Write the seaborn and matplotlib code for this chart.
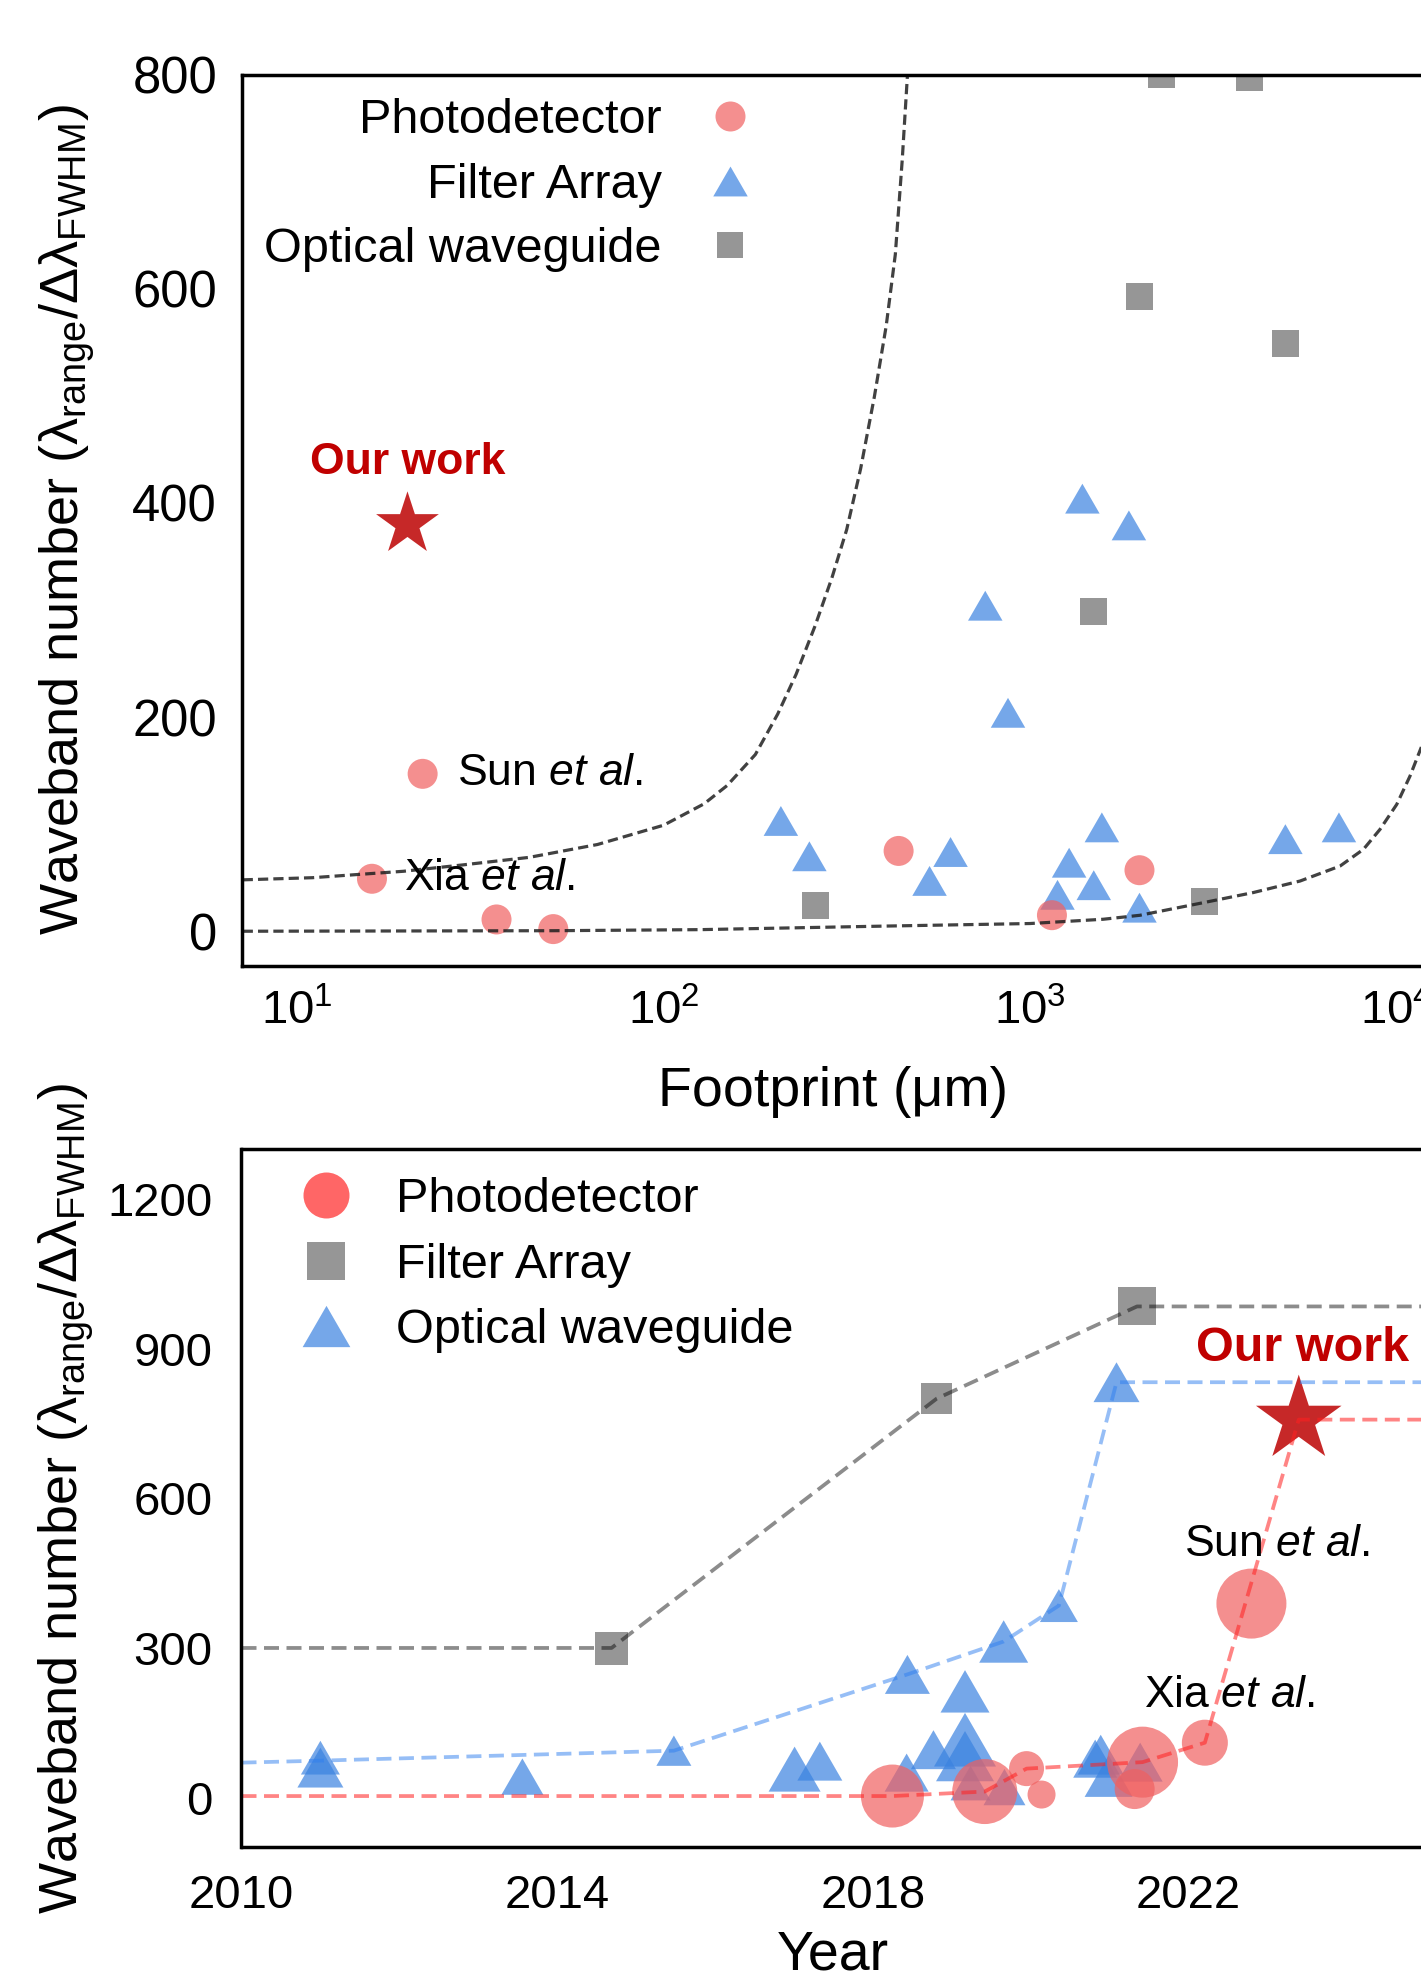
import numpy as np
import pandas as pd
import matplotlib
matplotlib.use("Agg")
import matplotlib.pyplot as plt
import seaborn as sns
from matplotlib.path import Path
from matplotlib.lines import Line2D
from matplotlib.ticker import LogLocator, NullFormatter, MultipleLocator, FixedLocator

# ------------------------------------------------------------------ data (top)
fp_pd_x = [16, 22, 35, 50, 438, 1148, 1990]
fp_pd_y = [49, 147, 11, 2, 75, 15, 57]
fp_fa_x = [209, 250, 532, 607, 755, 871, 1189, 1279, 1390, 1493, 1571, 1862, 1990, 4978, 6970]
fp_fa_y = [103, 70, 47, 74, 304, 204, 34, 64, 404, 43, 97, 379, 22, 86, 97]
fp_ow_x = [260, 1493, 1995, 2286, 3981, 2992, 4990]
fp_ow_y = [24, 299, 593, 800, 797, 28, 549]
fp_our_x = [20]
fp_our_y = [380]

guide_hi_x = [7.1, 11, 19.5, 28.4, 43, 66, 100, 129, 149, 178, 205, 230, 259, 288,
              316, 345, 376, 405, 429, 448, 465]
guide_hi_y = [48, 50, 56, 62, 69, 81, 99, 119, 136, 165, 203, 240, 285, 330,
              375, 432, 499, 565, 632, 720, 810]
guide_lo_x = [7.1, 50, 126, 400, 1000, 1585, 1995, 2985, 4065, 5460, 7020, 8130,
              9020, 10020, 10890, 11700]
guide_lo_y = [0, 0.5, 1.5, 4.8, 7.2, 11.2, 14.9, 26.8, 36.1, 46.9, 60.9, 76.5,
              95.1, 118.4, 144.8, 172]

# ------------------------------------------------------------------ data (bottom)
yr_pd_x = [2018.25, 2019.42, 2019.95, 2020.14, 2021.32, 2021.42, 2022.21, 2022.80]
yr_pd_y = [3, 12, 58, 6, 17, 71, 110, 389]
yr_pd_bubble = [63, 65, 35, 28, 40, 71, 46, 70]

yr_fa_x = [2014.69, 2018.81, 2021.35]
yr_fa_y = [299, 800, 985]
yr_fa_bubble = [33.5, 30.5, 38]

yr_ow_x = [2011.0, 2011.0, 2013.56, 2015.48, 2017.01, 2017.33, 2018.43, 2018.44,
           2018.77, 2019.17, 2019.17, 2019.17, 2019.24, 2019.67, 2019.66, 2020.36,
           2020.82, 2020.89, 2020.99, 2021.39, 2021.09]
yr_ow_y = [80, 60, 42, 94, 57, 73, 50, 247, 96, 213, 116, 83, 29, 21, 313, 385,
           78, 86, 43, 71, 833]
yr_ow_bubble = [39, 46, 42, 35, 52, 45, 44, 45, 45, 49, 62, 58, 40, 42, 49, 38,
                44, 46, 48, 45, 46]

yr_our_x = [2023.40]
yr_our_y = [758]

line_pd_x = [2010, 2018.25, 2019.42, 2019.95, 2021.42, 2022.21, 2023.40, 2025]
line_pd_y = [3, 3, 12, 58, 71, 110, 758, 758]
line_fa_x = [2010, 2014.69, 2018.81, 2021.35, 2025]
line_fa_y = [300, 300, 800, 985, 985]
line_ow_x = [2010, 2011.0, 2015.48, 2018.44, 2019.66, 2020.36, 2021.09, 2025]
line_ow_y = [70, 74, 94, 247, 313, 385, 833, 833]

labels_top = ["Photodetector", "Filter Array", "Optical waveguide"]
labels_bot = ["Photodetector", "Filter Array", "Optical waveguide"]

# ------------------------------------------------------------------ style
sns.set_style("white")
plt.rcParams["font.family"] = ["Liberation Sans", "DejaVu Sans"]
plt.rcParams["mathtext.fontset"] = "custom"
plt.rcParams["mathtext.rm"] = "Liberation Sans"
plt.rcParams["mathtext.it"] = "Liberation Sans:italic"
plt.rcParams["mathtext.bf"] = "Liberation Sans:bold"
plt.rcParams["mathtext.default"] = "regular"
plt.rcParams["text.color"] = "black"
plt.rcParams["axes.labelcolor"] = "black"
plt.rcParams["xtick.color"] = "black"
plt.rcParams["ytick.color"] = "black"
plt.rcParams["xtick.labelcolor"] = "black"
plt.rcParams["ytick.labelcolor"] = "black"

RED = "#F06060"
BLUE = "#3A82E0"
GRAY = "#969696"
STAR = "#C62828"
TXT_RED = "#C00000"
ALPHA = 0.7
PX = 0.72  # px -> pt at dpi 100

TRI = Path([(0, 0.433), (-0.5, -0.433), (0.5, -0.433), (0, 0.433)],
           [Path.MOVETO, Path.LINETO, Path.LINETO, Path.CLOSEPOLY])

fig = plt.figure(figsize=(14.21, 19.80), dpi=100)
ax1 = fig.add_axes([242 / 1421, 0.51237, 1183 / 1421, 0.44995])
ax2 = fig.add_axes([241.5 / 1421, 0.06697, 1183.5 / 1421, 0.35253])


def scatter_fixed(ax, x, y, d_px, marker, color, alpha, z):
    df = pd.DataFrame({"x": x, "y": y})
    sns.scatterplot(data=df, x="x", y="y", marker=marker, color=color, alpha=alpha,
                    s=(d_px * PX) ** 2, linewidth=0, edgecolor="none", legend=False,
                    ax=ax, zorder=z)


def scatter_bubble(ax, x, y, d_px, marker, color, alpha, z):
    s = (np.asarray(d_px, float) * PX) ** 2
    df = pd.DataFrame({"x": x, "y": y, "s": s})
    lo, hi = float(s.min()), float(s.max())
    sns.scatterplot(data=df, x="x", y="y", size="s", sizes=(lo, hi), size_norm=(lo, hi),
                    marker=marker, color=color, alpha=alpha, linewidth=0,
                    edgecolor="none", legend=False, ax=ax, zorder=z)


# ------------------------------------------------------------------ top panel
ax1.set_xscale("log")
scatter_fixed(ax1, fp_ow_x, fp_ow_y, 27, "s", GRAY, 1.0, 3)
scatter_fixed(ax1, fp_fa_x, fp_fa_y, 34.5, TRI, BLUE, ALPHA, 3)
scatter_fixed(ax1, fp_pd_x, fp_pd_y, 30, "o", RED, ALPHA, 3)
scatter_fixed(ax1, fp_our_x, fp_our_y, 66, "*", STAR, 1.0, 4)

for gx, gy in ((guide_hi_x, guide_hi_y), (guide_lo_x, guide_lo_y)):
    sns.lineplot(x=gx, y=gy, ax=ax1, color="#202020", alpha=0.85, lw=2.3,
                 linestyle=(0, (3.2, 1.6)), sort=False, estimator=None,
                 errorbar=None, zorder=5)

ax1.set_xlim(7.07, 11970)
ax1.set_ylim(-32, 800)
ax1.xaxis.set_major_locator(LogLocator(base=10, numticks=10))
ax1.xaxis.set_minor_locator(LogLocator(base=10, subs=(2, 4, 6, 8), numticks=20))
ax1.xaxis.set_minor_formatter(NullFormatter())
ax1.yaxis.set_major_locator(FixedLocator([0, 200, 400, 600, 800]))
ax1.yaxis.set_minor_locator(MultipleLocator(100))

ax1.text(20, 438, "Our work", color=TXT_RED, fontsize=32, fontweight="bold",
         ha="center", va="center", zorder=6)
ax1.text(27.3, 147, r"Sun $\mathit{et\ al.}$", fontsize=32, ha="left", va="center", zorder=6)
ax1.text(19.6, 49, r"Xia $\mathit{et\ al.}$", fontsize=32, ha="left", va="center", zorder=6)

h_top = [
    Line2D([0], [0], marker="o", ls="none", color=RED, alpha=ALPHA, markersize=30 * PX, markeredgewidth=0),
    Line2D([0], [0], marker=TRI, ls="none", color=BLUE, alpha=ALPHA, markersize=34.5 * PX, markeredgewidth=0),
    Line2D([0], [0], marker="s", ls="none", color=GRAY, markersize=27 * PX, markeredgewidth=0),
]
ax1.legend(h_top, labels_top, loc="upper right", bbox_to_anchor=(0.433, 0.9735),
           frameon=False, markerfirst=False, handlelength=1.0, handletextpad=0.9,
           labelspacing=0.40, borderpad=0, borderaxespad=0, fontsize=35,
           labelcolor="black")

ax1.set_xlabel("Footprint (μm)", fontsize=40)
ax1.xaxis.set_label_coords(0.5, -0.1128)
ax1.set_ylabel("Waveband number (λ$_{\\mathrm{range}}$/Δλ$_{\\mathrm{FWHM}}$)", fontsize=39)
ax1.yaxis.set_label_coords(-0.1226, 0.5)

# ------------------------------------------------------------------ bottom panel
scatter_bubble(ax2, yr_fa_x, yr_fa_y, yr_fa_bubble, "s", GRAY, 1.0, 3)
scatter_bubble(ax2, yr_ow_x, yr_ow_y, yr_ow_bubble, TRI, BLUE, ALPHA, 3)
scatter_bubble(ax2, yr_pd_x, yr_pd_y, yr_pd_bubble, "o", RED, ALPHA, 3)
scatter_fixed(ax2, yr_our_x, yr_our_y, 90, "*", STAR, 1.0, 4)

for lx, ly, lc, la in ((line_fa_x, line_fa_y, "#000000", 0.45),
                       (line_ow_x, line_ow_y, "#2F7FEF", 0.5),
                       (line_pd_x, line_pd_y, "#FF2020", 0.55)):
    sns.lineplot(x=lx, y=ly, ax=ax2, color=lc, alpha=la, lw=2.7,
                 linestyle=(0, (4, 2)), sort=False, estimator=None,
                 errorbar=None, zorder=5)

ax2.set_xlim(2010, 2025)
ax2.set_ylim(-100, 1300)
ax2.xaxis.set_major_locator(FixedLocator([2010, 2014, 2018, 2022]))
ax2.xaxis.set_minor_locator(MultipleLocator(2))
ax2.yaxis.set_major_locator(FixedLocator([0, 300, 600, 900, 1200]))
ax2.yaxis.set_minor_locator(MultipleLocator(150))

ax2.text(2023.45, 900, "Our work", color=TXT_RED, fontsize=35, fontweight="bold",
         ha="center", va="center", zorder=6)
ax2.text(2021.95, 508, r"Sun $\mathit{et\ al.}$", fontsize=32, ha="left", va="center", zorder=6)
ax2.text(2021.44, 204, r"Xia $\mathit{et\ al.}$", fontsize=32, ha="left", va="center", zorder=6)

h_bot = [
    Line2D([0], [0], marker="o", ls="none", color="#FF6666", markersize=46 * PX, markeredgewidth=0),
    Line2D([0], [0], marker="s", ls="none", color=GRAY, markersize=37.6 * PX, markeredgewidth=0),
    Line2D([0], [0], marker=TRI, ls="none", color=BLUE, alpha=ALPHA, markersize=47.7 * PX, markeredgewidth=0),
]
ax2.legend(h_bot, labels_bot, loc="upper left", bbox_to_anchor=(0.0505, 0.960),
           frameon=False, markerfirst=True, handlelength=1.0, handletextpad=0.94,
           labelspacing=0.42, borderpad=0, borderaxespad=0, fontsize=35,
           labelcolor="black")

ax2.set_xlabel("Year", fontsize=40)
ax2.xaxis.set_label_coords(0.5, -0.118)
ax2.set_ylabel("Waveband number (λ$_{\\mathrm{range}}$/Δλ$_{\\mathrm{FWHM}}$)", fontsize=39)
ax2.yaxis.set_label_coords(-0.1226, 0.5)

# ------------------------------------------------------------------ axes styling
for ax, ylen, xpad, ylab in ((ax1, 9, 17, 36.5), (ax2, 12, 19, 34)):
    for sp in ax.spines.values():
        sp.set_linewidth(2.5)
        sp.set_color("black")
        sp.set_zorder(10)
    ax.tick_params(axis="x", which="major", direction="in", length=11, width=2.2,
                   pad=xpad, labelsize=34, color="black", labelcolor="black")
    ax.tick_params(axis="x", which="minor", direction="in", length=5, width=2.2, color="black")
    ax.tick_params(axis="y", which="major", direction="out", length=ylen, width=2.2,
                   pad=9, labelsize=ylab, color="black", labelcolor="black")
    ax.tick_params(axis="y", which="minor", direction="out", length=6, width=2.2, color="black")
    ax.xaxis.label.set_color("black")
    ax.yaxis.label.set_color("black")
    ax.grid(False)

fig.savefig("out.png", dpi=100)
